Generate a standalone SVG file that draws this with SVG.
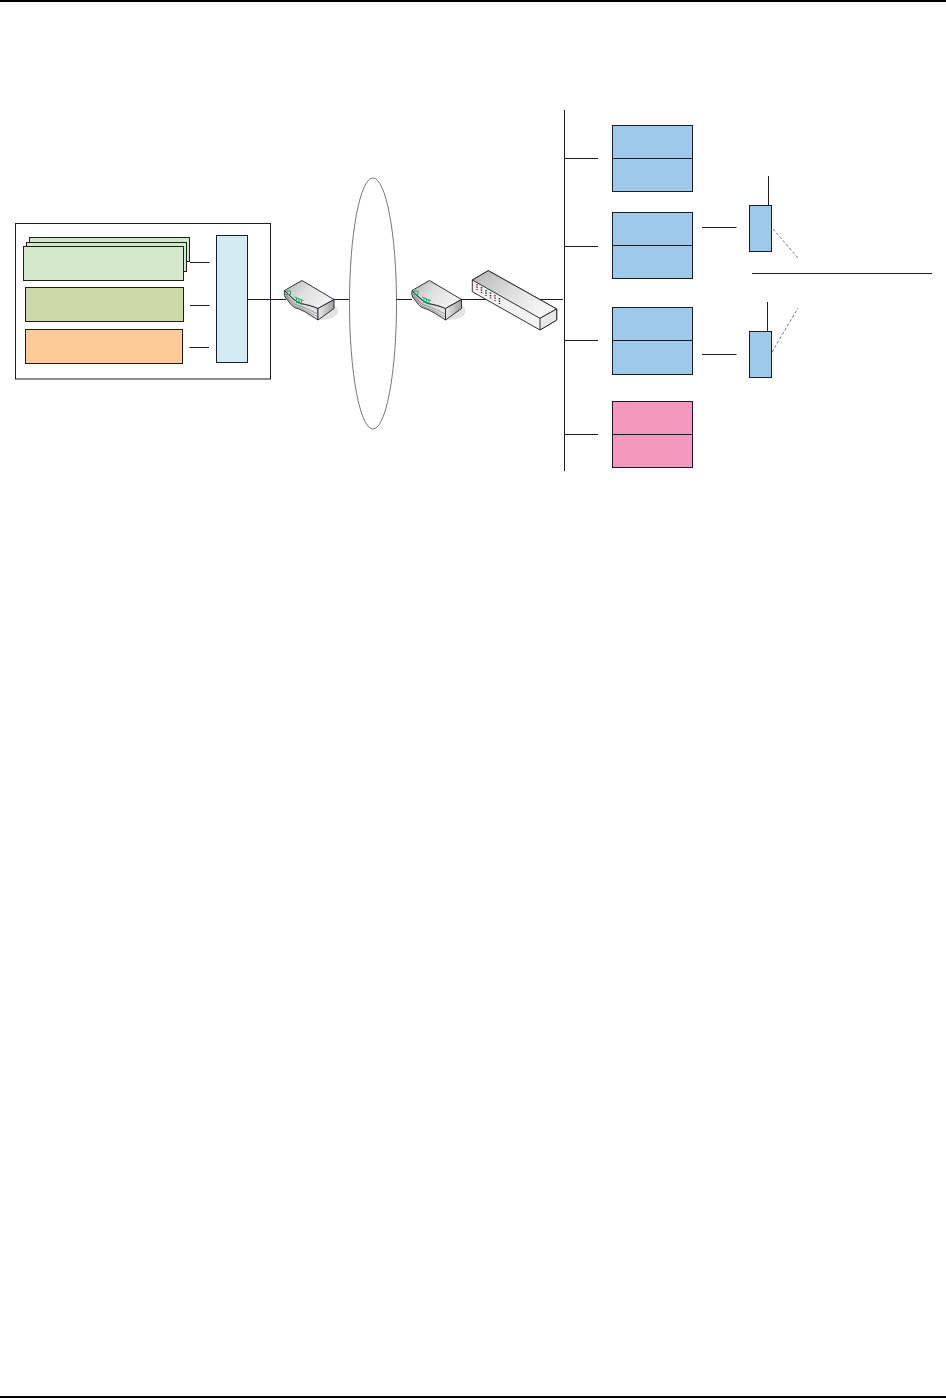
<svg xmlns="http://www.w3.org/2000/svg" width="946" height="1398" viewBox="0 0 946 1398">
<defs>
<style>
.b{stroke:#1c1c24;stroke-width:1;}
.l{stroke:#1c1c24;stroke-width:1;fill:none;}
.d{stroke:#777;stroke-width:1;stroke-dasharray:3 2;fill:none;}
.e{stroke:#1c1c24;stroke-width:0.900;}
.blue{fill:#9fc9eb;}
.pink{fill:#f498c0;}
</style>
<linearGradient id="gt" x1="0" y1="0" x2="1" y2="0.5"><stop offset="0" stop-color="#b4b4b4"/><stop offset="0.5" stop-color="#e0e0e0"/><stop offset="1" stop-color="#f2f2f2"/></linearGradient>
<linearGradient id="gf" x1="0" y1="0" x2="1" y2="0"><stop offset="0" stop-color="#ececec"/><stop offset="1" stop-color="#a0a0a0"/></linearGradient>
<linearGradient id="gb" x1="0" y1="0" x2="1" y2="1"><stop offset="0" stop-color="#b8b8b8"/><stop offset="1" stop-color="#efefef"/></linearGradient>
<linearGradient id="gs" x1="0" y1="0" x2="1" y2="0.5"><stop offset="0" stop-color="#b4b4b4"/><stop offset="0.6" stop-color="#e2e2e2"/><stop offset="1" stop-color="#f6f6f6"/></linearGradient>
<g id="router">
<ellipse cx="38" cy="31" rx="16" ry="9" fill="#dcdcdc" opacity="0.8"/>
<path class="e" d="M0.500 10.500 C0 13 0.500 15 1 17 C6 23 8 27 12 28 C18 30 24 33 34 40 L34 28.500 C24 24 20 25 14 22 C10 20 6 16 0.500 10.500 Z" fill="url(#gb)"/>
<path class="e" d="M0.500 10.500 L18 0.500 L50 19.500 L34 28.500 C24 24 20 25 14 22 C10 20 6 16 0.500 10.500 Z" fill="url(#gt)"/>
<path class="e" d="M34 28.500 L50 19.500 L50 28.500 L34 40 Z" fill="url(#gf)"/>
<path d="M1 13.500 C6 19 9 24 13 25 C19 27 25 30 34 34 M1 15.500 C6 21 9 26 13 27 C19 29 25 32 34 37" fill="none" stroke="#555" stroke-width="0.500"/>
<path d="M3 11 h3.500 v3.500 h-3.500 Z M10.500 17 L19.500 20.500 M12.500 18 l0 5 M15 19 l0 5 M17.500 20 l0 5" fill="none" stroke="#1fa968" stroke-width="1"/>
</g>
</defs>
<rect width="946" height="1398" fill="#fff"/>
<g id="page-rules">
<rect x="0" y="0" width="946" height="2" fill="#000"/>
<rect x="0" y="1396" width="946" height="2" fill="#000"/>
</g>
<g id="site-frame"><rect class="b" x="15.500" y="223.500" width="255" height="155.500" fill="#fff"/></g>
<g id="connectors">
<path class="l" d="M190 262.500H209.500M190 305.500H209.500M189.500 347.500H209M247.500 299.500H286M331 299.500H349M396 299.500H412M460 299.500H563M564.500 110V471M564 158.500H598M564 246.500H598M564 340.500H598M564 434.500H598M702 227.500H736.500M702 354.500H736.500M768.500 176V205.500M767.500 302V331.500M752 273.500H932"/>
<path class="d" d="M773 229L798 258M772 352L798 308"/>
</g>
<g id="stack">
<rect class="b" x="29.500" y="237.500" width="160" height="24" fill="#d2e8c8"/>
<rect class="b" x="26.500" y="242.500" width="160" height="29" fill="#d2e8c8"/>
<rect class="b" x="23.500" y="246.500" width="160" height="34" fill="#d2e8c8"/>
</g>
<g id="green-box"><rect class="b" x="25.500" y="287.500" width="158" height="34" fill="#cbdba8"/></g>
<g id="orange-box"><rect class="b" x="25.500" y="329.500" width="157" height="34" fill="#fecb98"/></g>
<g id="bus-box"><rect class="b" x="216.500" y="235.500" width="31" height="127" fill="#d2ebf3"/></g>
<g id="router-1"><use href="#router" x="284" y="280"/></g>
<g id="cloud"><ellipse cx="373" cy="303.500" rx="23.500" ry="125.500" fill="none" stroke="#555" stroke-width="0.800"/></g>
<g id="router-2"><use href="#router" x="411.500" y="280"/></g>
<g id="switch">
<path d="M472.300 280 L488.300 270.700 L556.700 309 L556.700 320 L540 330 L472.300 291.700 Z" fill="#f2f2f2" class="e"/>
<path d="M472.300 280 L488.300 270.700 L556.700 309 L540 318.300 Z" fill="url(#gs)" class="e"/>
<path d="M540 318.300 L556.700 309 L556.700 320 L540 330 Z" fill="#e8e8e8" class="e"/>
<path d="M477 284v6M495 295v6" stroke="#8a3a48" stroke-width="1.500" stroke-dasharray="1.500 1" fill="none"/>
<path d="M481.500 287v6M486 290v6M490.500 292.500v6M499.500 298v6" stroke="#2f423c" stroke-width="1.500" stroke-dasharray="1.500 1" fill="none"/>
</g>
<g id="server-1"><rect class="b blue" x="612.500" y="125.500" width="80" height="66"/><path class="l" d="M612.500 158.500H692.500"/></g>
<g id="server-2"><rect class="b blue" x="612.500" y="212.500" width="80" height="66"/><path class="l" d="M612.500 245.500H692.500"/></g>
<g id="server-3"><rect class="b blue" x="612.500" y="307.500" width="80" height="67"/><path class="l" d="M612.500 340.500H692.500"/></g>
<g id="server-4"><rect class="b pink" x="612.500" y="401.500" width="80" height="66"/><path class="l" d="M612.500 434.500H692.500"/></g>
<g id="ap-1"><rect class="b blue" x="749.500" y="205.500" width="22" height="46"/></g>
<g id="ap-2"><rect class="b blue" x="749.500" y="331.500" width="22" height="46"/></g>
</svg>
